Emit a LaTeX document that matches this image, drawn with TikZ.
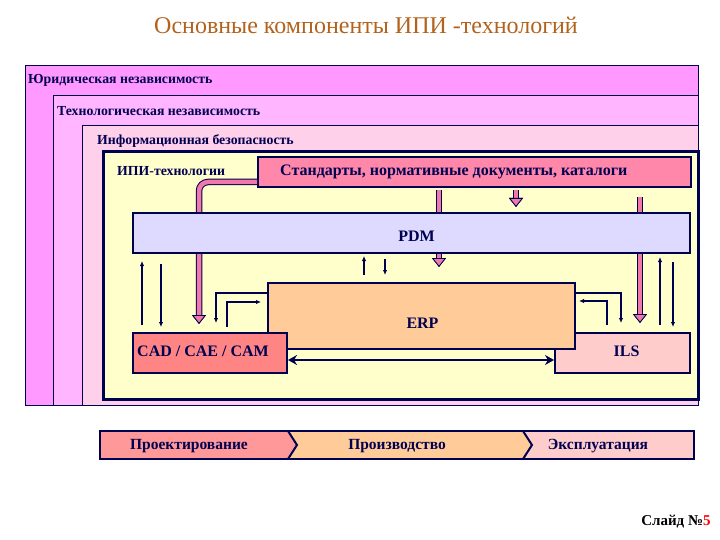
\documentclass[tikz,border=0pt]{standalone}
\usepackage{fontspec}
\setmainfont{Liberation Serif}
\usepackage{tikz}
\usetikzlibrary{arrows.meta,positioning}
\definecolor{dkblue}{RGB}{0,0,80}
\definecolor{titlebrown}{RGB}{178,98,28}
\definecolor{jurfill}{RGB}{255,153,255}
\definecolor{techfill}{RGB}{255,181,255}
\definecolor{infofill}{RGB}{255,208,234}
\definecolor{ipifill}{RGB}{255,255,204}
\definecolor{stdfill}{RGB}{255,135,170}
\definecolor{pinkarr}{RGB}{240,120,170}
\definecolor{pdmfill}{RGB}{221,217,255}
\definecolor{erpfill}{RGB}{255,204,153}
\definecolor{cadfill}{RGB}{255,133,133}
\definecolor{ilsfill}{RGB}{255,204,204}
\definecolor{stagea}{RGB}{255,153,153}
\definecolor{stageb}{RGB}{255,204,153}
\definecolor{stagec}{RGB}{255,204,204}
\tikzset{
  layerbox/.style={ draw=dkblue, line width=1.2pt, anchor=north west, inner sep=0pt }
}
\tikzset{
  sysbox/.style={ draw=dkblue, line width=2pt, anchor=north west, inner sep=0pt }
}
\tikzset{
  layertxt/.style={ anchor=west, inner sep=0pt, text=dkblue, font=\bfseries\fontsize{13.8}{16}\selectfont }
}
\tikzset{
  boxtxt/.style={ inner sep=0pt, text=dkblue, font=\bfseries\fontsize{16}{18}\selectfont }
}
\tikzset{
  stagetxt/.style={ inner sep=0pt, text=dkblue, font=\bfseries\fontsize{15.5}{18}\selectfont }
}
\tikzset{
  pinkarrow/.style={ line width=4.5pt, draw=pinkarr, preaction={draw=dkblue, line width=6.5pt},
    -{Triangle[length=9pt, width=14pt, line width=0.8pt, fill=pinkarr, color=dkblue]} }
}
\tikzset{
  navyarrow/.style={ draw=dkblue, line width=2pt, -{Latex[length=5pt, width=4.5pt]} }
}

\begin{document}
\begin{tikzpicture}[x=1pt, y=-1pt]
      \useasboundingbox (0,0) rectangle (720,540);
      \node[font=\fontsize{24}{28}\selectfont, text=titlebrown] (title) at (366,25) {Основные компоненты ИПИ -технологий};

      % nested layers
      \node[layerbox, fill=jurfill, minimum width=673pt, minimum height=340pt] (jur) at (25,65) {};
      \node[layerbox, fill=techfill, minimum width=645pt, minimum height=310pt] (tech) at (53,95) {};
      \node[layerbox, fill=infofill, minimum width=616pt, minimum height=280pt] (info) at (82,125) {};
      \node[layerbox, fill=ipifill, line width=3pt, minimum width=595pt, minimum height=248pt] (ipi) at (102,150) {};
      \node[layertxt] (jurtxt) at (28,80) {Юридическая независимость};
      \node[layertxt] (techtxt) at (57,111) {Технологическая независимость};
      \node[layertxt] (infotxt) at (97,141) {Информационная безопасность};
      \node[layertxt] (ipitxt) at (117,171) {ИПИ-технологии};

      \node[sysbox, fill=stdfill, minimum width=433pt, minimum height=30pt] (std) at (257,156) {};
      \node[boxtxt, anchor=west] (stdtxt) at ([xshift=23pt]std.west) {Стандарты, нормативные документы, каталоги};
      \node[sysbox, fill=ilsfill, minimum width=135pt, minimum height=40pt] (ils) at (554,332) {};
      \node[boxtxt] (ilstxt) at ([xshift=4pt, yshift=2pt]ils.center) {ILS};
      \node[sysbox, fill=erpfill, minimum width=307pt, minimum height=66pt] (erp) at (267,282) {};
      \node[boxtxt] (erptxt) at ([xshift=1pt, yshift=-7pt]erp.center) {ERP};
      \node[sysbox, fill=cadfill, minimum width=154pt, minimum height=40pt] (cad) at (132,332) {};
      \node[boxtxt, anchor=west] (cadtxt) at ([xshift=5pt, yshift=2pt]cad.west) {CAD / CAE / CAM};

      % pink arrows running behind PDM
      \draw[pinkarrow, rounded corners=9pt, shorten >=8pt] (std.west |- 0,182) -| (199,0 |- cad.north);
      \draw[pinkarrow, shorten <=2pt, shorten >=15pt] (std.south -| 439,0) -- (erp.north -| 439,0);
      \draw[pinkarrow, shorten <=9pt, shorten >=9pt] (std.south -| 640,0) -- (ils.north -| 640,0);

      \node[sysbox, fill=pdmfill, minimum width=557pt, minimum height=40pt] (pdm) at (132,212) {};
      \node[boxtxt] (pdmtxt) at ([xshift=5pt, yshift=-3pt]pdm.center) {PDM};
      \draw[pinkarrow, shorten <=2pt, shorten >=5pt] (std.south -| 516,0) -- (pdm.north -| 516,0);

      \draw[navyarrow, shorten <=7pt, shorten >=7pt] (cad.north -| 142,0) -- (pdm.south -| 142,0);
      \draw[navyarrow, shorten <=10pt, shorten >=5pt] (pdm.south -| 161,0) -- (cad.north -| 161,0);
      \draw[navyarrow, shorten <=7pt, shorten >=2pt] (erp.north -| 364,0) -- (pdm.south -| 364,0);
      \draw[navyarrow, shorten <=5pt, shorten >=7pt] (pdm.south -| 385,0) -- (erp.north -| 385,0);
      \draw[navyarrow, shorten <=7pt, shorten >=3pt] (ils.north -| 660,0) -- (pdm.south -| 660,0);
      \draw[navyarrow, shorten <=8pt, shorten >=5pt] (pdm.south -| 673,0) -- (ils.north -| 673,0);

      \draw[navyarrow, shorten >=9pt] (erp.west |- 0,293) -| (216,0 |- cad.north);
      \draw[navyarrow, shorten <=5pt, shorten >=6pt] (227,0 |- cad.north) |- (erp.west |- 0,302);
      \draw[navyarrow, shorten >=9pt] (erp.east |- 0,293) -| (621,0 |- ils.north);
      \draw[navyarrow, shorten <=7pt, shorten >=3pt] (607,0 |- ils.north) |- (erp.east |- 0,301);
      \draw[draw=dkblue, line width=2.5pt, {Stealth[length=9pt, width=10pt, inset=3pt]}-{Stealth[length=9pt, width=10pt, inset=3pt]}]
        (cad.east |- 0,360) -- (ils.west |- 0,360);

      % life cycle bar
      \fill[stagea] (100,431) -- (288,431) -- (297,445) -- (288,459) -- (100,459) -- cycle;
      \fill[stageb] (288,431) -- (523,431) -- (532,445) -- (523,459) -- (288,459) -- (297,445) -- cycle;
      \fill[stagec] (523,431) -- (694,431) -- (694,459) -- (523,459) -- (532,445) -- cycle;
      \draw[dkblue, line width=2pt] (100,431) rectangle (694,459);
      \draw[dkblue, line width=2pt] (288,431) -- (297,445) -- (288,459);
      \draw[dkblue, line width=2pt] (523,431) -- (532,445) -- (523,459);
      \node[stagetxt] (design) at (189,446) {Проектирование};
      \node[stagetxt] (produce) at (397,446) {Производство};
      \node[stagetxt] (operate) at (598,446) {Эксплуатация};

      \node[inner sep=0pt, font=\bfseries\fontsize{15}{17}\selectfont] (slide) at (676,522) {Слайд №\textcolor{red}{5}};
    \end{tikzpicture}
\end{document}
